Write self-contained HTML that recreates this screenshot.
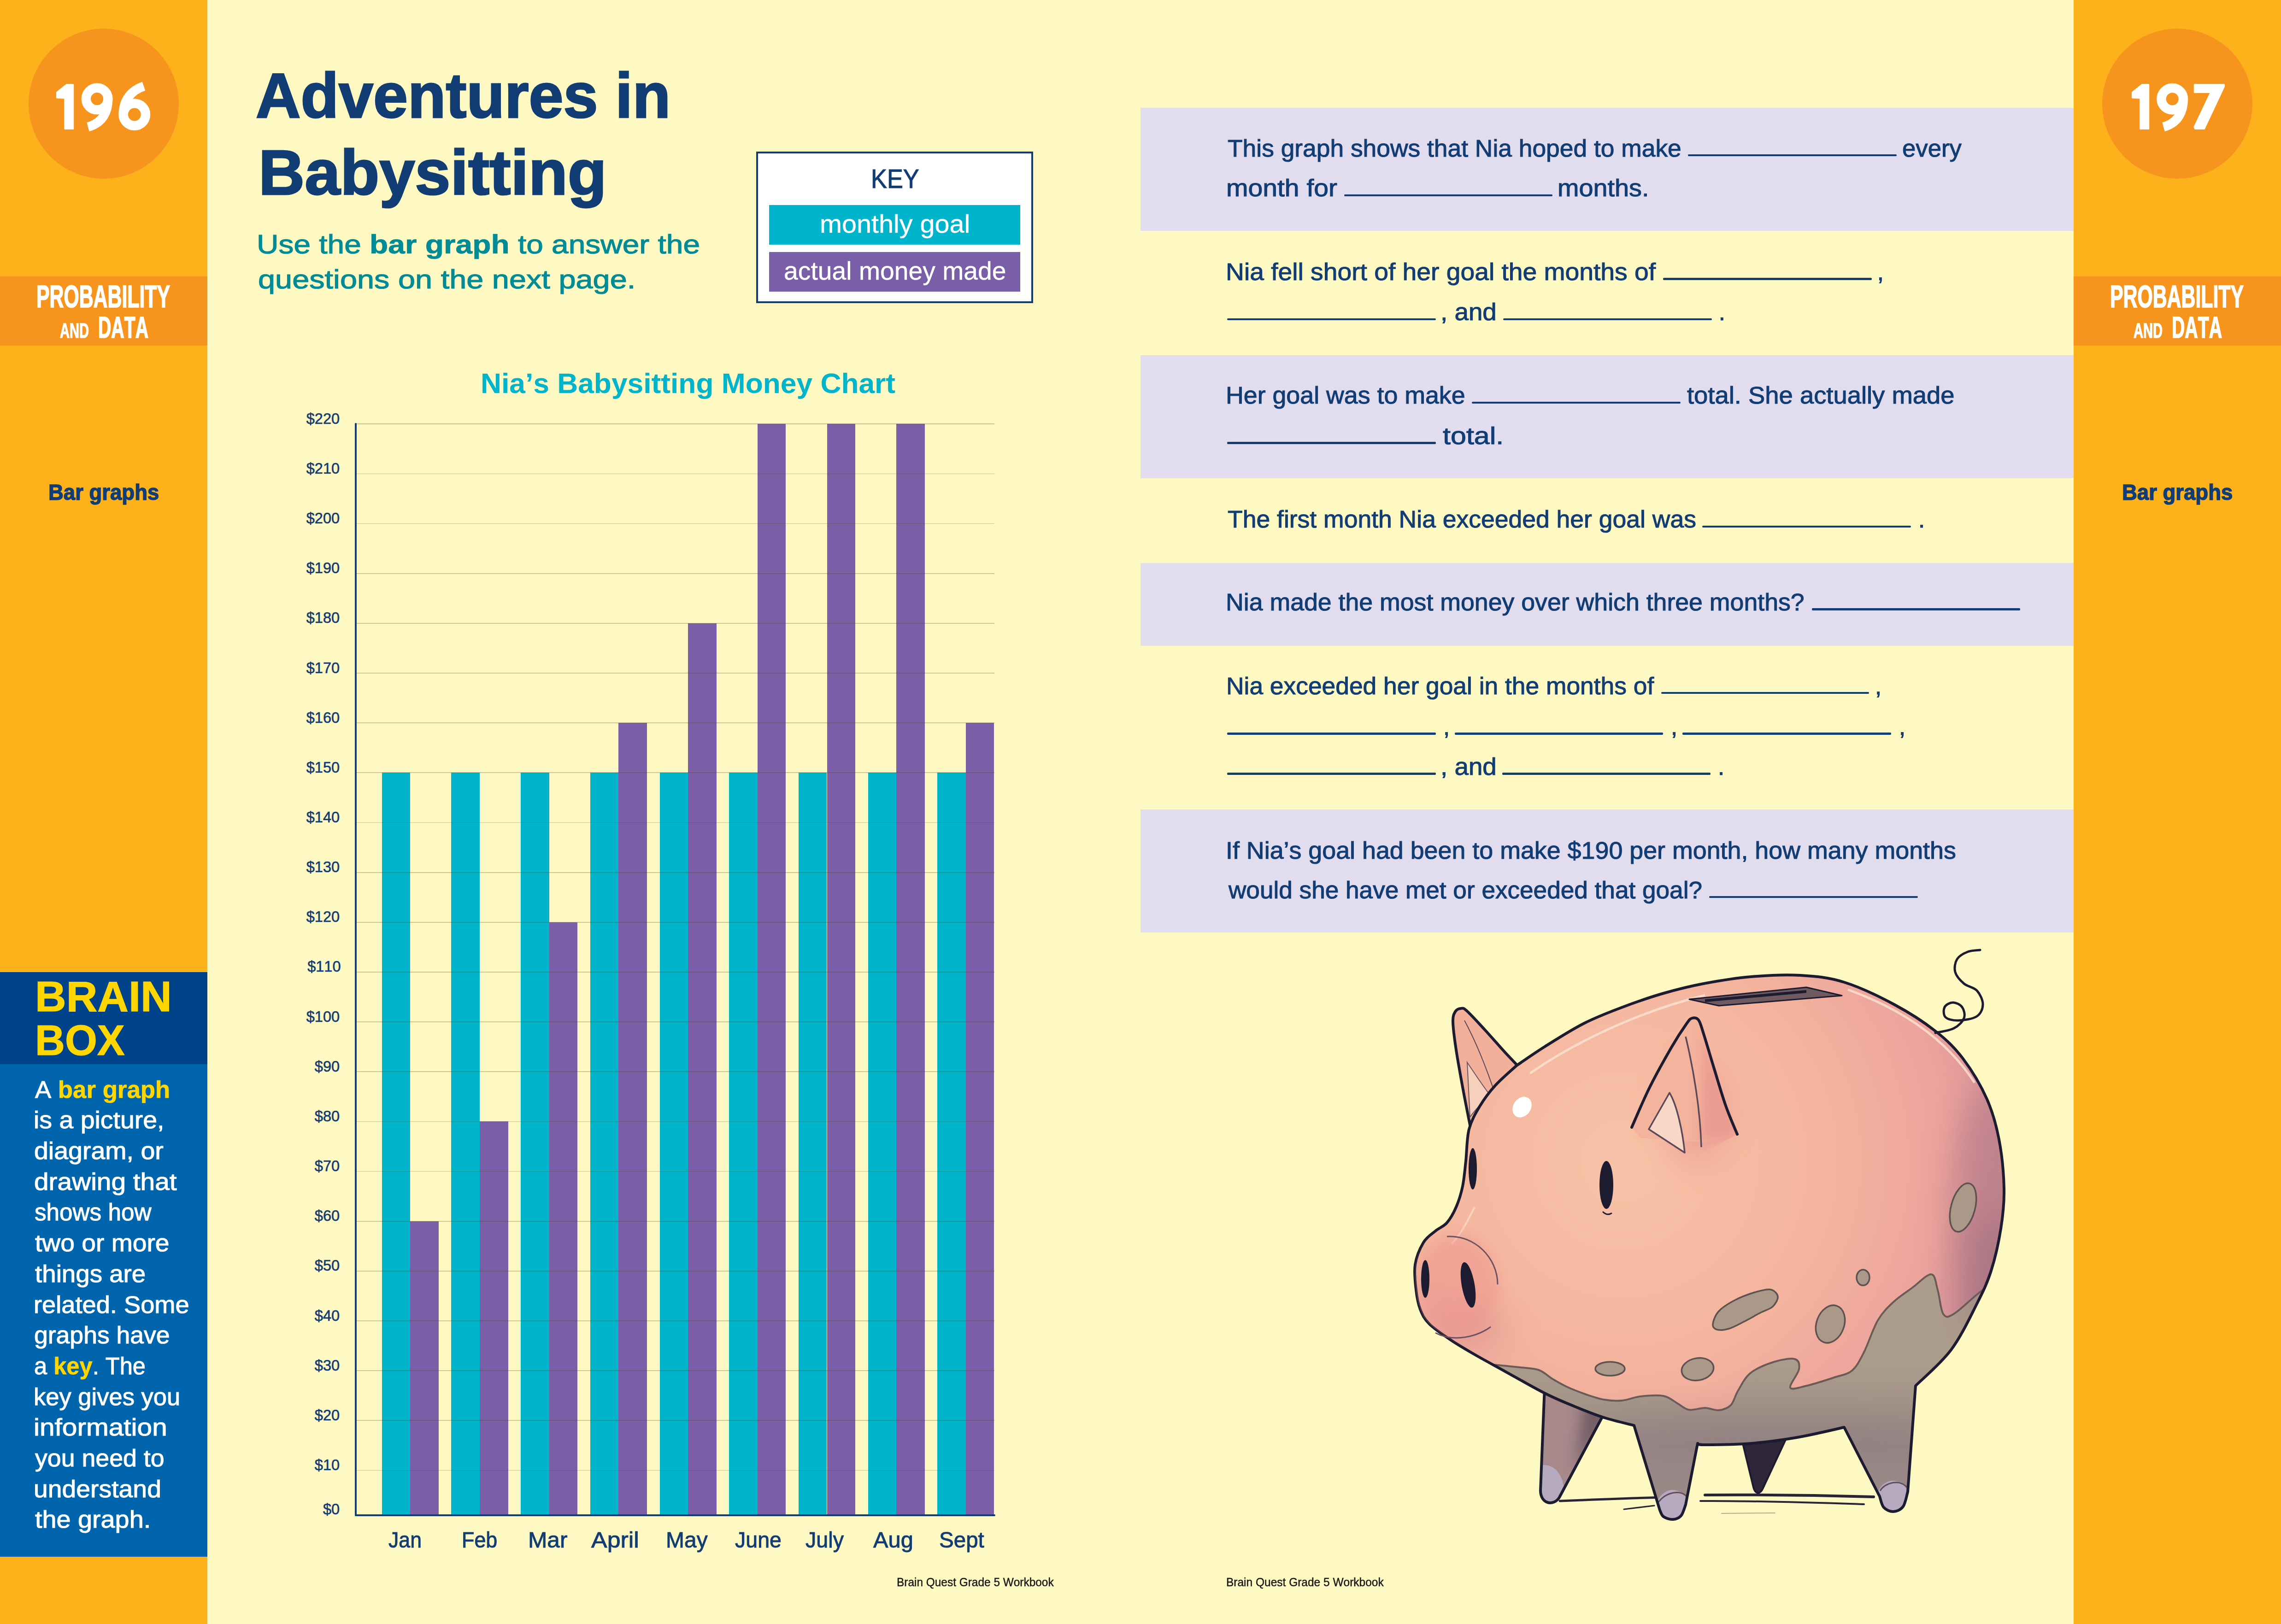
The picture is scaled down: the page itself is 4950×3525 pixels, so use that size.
<!DOCTYPE html>
<html><head><meta charset="utf-8"><title>Adventures in Babysitting</title>
<style>
html,body{margin:0;padding:0;}
body{width:4950px;height:3525px;position:relative;overflow:hidden;background:#FEF9C3;font-family:"Liberation Sans",sans-serif;}
.r{position:absolute;box-sizing:border-box;}
.t{position:absolute;white-space:pre;line-height:1;transform-origin:0 0;font-kerning:none;}
</style></head><body>
<div class="r" style="left:0.00px;top:0.00px;width:450.00px;height:3525.00px;background:#FDB11B;"></div>
<div class="r" style="left:62.0px;top:62.0px;width:326px;height:326px;border-radius:50%;background:#F7941E"></div>
<div class="r" style="left:0.00px;top:600.00px;width:450.00px;height:150.00px;background:#F7941E;"></div>
<div class="r" style="left:4500.00px;top:0.00px;width:450.00px;height:3525.00px;background:#FDB11B;"></div>
<div class="r" style="left:4562.0px;top:62.0px;width:326px;height:326px;border-radius:50%;background:#F7941E"></div>
<div class="r" style="left:4500.00px;top:600.00px;width:450.00px;height:150.00px;background:#F7941E;"></div>
<div class="r" style="left:0.00px;top:2110.00px;width:450.00px;height:200.00px;background:#00438B;"></div>
<div class="r" style="left:0.00px;top:2310.00px;width:450.00px;height:1068.50px;background:#0065AD;"></div>
<div class="r" style="left:2475.30px;top:233.70px;width:2024.70px;height:267.00px;background:#E1DCEE;"></div>
<div class="r" style="left:2475.30px;top:770.90px;width:2024.70px;height:266.90px;background:#E1DCEE;"></div>
<div class="r" style="left:2475.30px;top:1222.00px;width:2024.70px;height:180.00px;background:#E1DCEE;"></div>
<div class="r" style="left:2475.30px;top:1757.00px;width:2024.70px;height:266.70px;background:#E1DCEE;"></div>
<div class="r" style="left:1640.8px;top:328.5px;width:601px;height:329.4px;border:4.2px solid #123D74;background:#fff"></div>
<div class="r" style="left:1668.80px;top:445.20px;width:545.50px;height:85.60px;background:#00B4CC;"></div>
<div class="r" style="left:1668.80px;top:547.40px;width:545.50px;height:85.30px;background:#7A5FA8;"></div>
<div class="r" style="left:828.70px;top:1677.35px;width:61.60px;height:1610.65px;background:#00B4CC;"></div>
<div class="r" style="left:890.30px;top:2650.70px;width:61.60px;height:637.30px;background:#7A5FA8;"></div>
<div class="r" style="left:979.40px;top:1677.35px;width:61.60px;height:1610.65px;background:#00B4CC;"></div>
<div class="r" style="left:1041.00px;top:2434.40px;width:61.60px;height:853.60px;background:#7A5FA8;"></div>
<div class="r" style="left:1130.10px;top:1677.35px;width:61.60px;height:1610.65px;background:#00B4CC;"></div>
<div class="r" style="left:1191.70px;top:2001.80px;width:61.60px;height:1286.20px;background:#7A5FA8;"></div>
<div class="r" style="left:1280.80px;top:1677.35px;width:61.60px;height:1610.65px;background:#00B4CC;"></div>
<div class="r" style="left:1342.40px;top:1569.20px;width:61.60px;height:1718.80px;background:#7A5FA8;"></div>
<div class="r" style="left:1431.50px;top:1677.35px;width:61.60px;height:1610.65px;background:#00B4CC;"></div>
<div class="r" style="left:1493.10px;top:1352.90px;width:61.60px;height:1935.10px;background:#7A5FA8;"></div>
<div class="r" style="left:1582.20px;top:1677.35px;width:61.60px;height:1610.65px;background:#00B4CC;"></div>
<div class="r" style="left:1643.80px;top:920.30px;width:61.60px;height:2367.70px;background:#7A5FA8;"></div>
<div class="r" style="left:1732.90px;top:1677.35px;width:61.60px;height:1610.65px;background:#00B4CC;"></div>
<div class="r" style="left:1794.50px;top:920.30px;width:61.60px;height:2367.70px;background:#7A5FA8;"></div>
<div class="r" style="left:1883.60px;top:1677.35px;width:61.60px;height:1610.65px;background:#00B4CC;"></div>
<div class="r" style="left:1945.20px;top:920.30px;width:61.60px;height:2367.70px;background:#7A5FA8;"></div>
<div class="r" style="left:2034.30px;top:1677.35px;width:61.60px;height:1610.65px;background:#00B4CC;"></div>
<div class="r" style="left:2095.90px;top:1569.20px;width:61.60px;height:1718.80px;background:#7A5FA8;"></div>
<div class="r" style="left:773.00px;top:3190.55px;width:1385.00px;height:1.80px;background:rgba(90,70,20,0.28);"></div>
<div class="r" style="left:773.00px;top:3082.40px;width:1385.00px;height:1.80px;background:rgba(90,70,20,0.28);"></div>
<div class="r" style="left:773.00px;top:2974.25px;width:1385.00px;height:1.80px;background:rgba(90,70,20,0.28);"></div>
<div class="r" style="left:773.00px;top:2866.10px;width:1385.00px;height:1.80px;background:rgba(90,70,20,0.28);"></div>
<div class="r" style="left:773.00px;top:2757.95px;width:1385.00px;height:1.80px;background:rgba(90,70,20,0.28);"></div>
<div class="r" style="left:773.00px;top:2649.80px;width:1385.00px;height:1.80px;background:rgba(90,70,20,0.28);"></div>
<div class="r" style="left:773.00px;top:2541.65px;width:1385.00px;height:1.80px;background:rgba(90,70,20,0.28);"></div>
<div class="r" style="left:773.00px;top:2433.50px;width:1385.00px;height:1.80px;background:rgba(90,70,20,0.28);"></div>
<div class="r" style="left:773.00px;top:2325.35px;width:1385.00px;height:1.80px;background:rgba(90,70,20,0.28);"></div>
<div class="r" style="left:773.00px;top:2217.20px;width:1385.00px;height:1.80px;background:rgba(90,70,20,0.28);"></div>
<div class="r" style="left:773.00px;top:2109.05px;width:1385.00px;height:1.80px;background:rgba(90,70,20,0.28);"></div>
<div class="r" style="left:773.00px;top:2000.90px;width:1385.00px;height:1.80px;background:rgba(90,70,20,0.28);"></div>
<div class="r" style="left:773.00px;top:1892.75px;width:1385.00px;height:1.80px;background:rgba(90,70,20,0.28);"></div>
<div class="r" style="left:773.00px;top:1784.60px;width:1385.00px;height:1.80px;background:rgba(90,70,20,0.28);"></div>
<div class="r" style="left:773.00px;top:1676.45px;width:1385.00px;height:1.80px;background:rgba(90,70,20,0.28);"></div>
<div class="r" style="left:773.00px;top:1568.30px;width:1385.00px;height:1.80px;background:rgba(90,70,20,0.28);"></div>
<div class="r" style="left:773.00px;top:1460.15px;width:1385.00px;height:1.80px;background:rgba(90,70,20,0.28);"></div>
<div class="r" style="left:773.00px;top:1352.00px;width:1385.00px;height:1.80px;background:rgba(90,70,20,0.28);"></div>
<div class="r" style="left:773.00px;top:1243.85px;width:1385.00px;height:1.80px;background:rgba(90,70,20,0.28);"></div>
<div class="r" style="left:773.00px;top:1135.70px;width:1385.00px;height:1.80px;background:rgba(90,70,20,0.28);"></div>
<div class="r" style="left:773.00px;top:1027.55px;width:1385.00px;height:1.80px;background:rgba(90,70,20,0.28);"></div>
<div class="r" style="left:773.00px;top:919.40px;width:1385.00px;height:1.80px;background:rgba(90,70,20,0.28);"></div>
<div class="r" style="left:770.20px;top:918.00px;width:3.60px;height:2372.80px;background:#123D74;border-radius:2px"></div>
<div class="r" style="left:770.20px;top:3286.60px;width:1389.80px;height:4.20px;background:#123D74;border-radius:2px"></div>
<div class="r" style="left:3663.00px;top:335.10px;width:452.50px;height:4.40px;background:#123D74;border-radius:2px"></div>
<div class="r" style="left:2916.50px;top:421.50px;width:452.50px;height:4.40px;background:#123D74;border-radius:2px"></div>
<div class="r" style="left:3609.40px;top:603.40px;width:452.40px;height:4.40px;background:#123D74;border-radius:2px"></div>
<div class="r" style="left:2663.00px;top:690.60px;width:453.40px;height:4.40px;background:#123D74;border-radius:2px"></div>
<div class="r" style="left:3261.50px;top:690.60px;width:453.50px;height:4.40px;background:#123D74;border-radius:2px"></div>
<div class="r" style="left:3193.70px;top:871.70px;width:453.30px;height:4.40px;background:#123D74;border-radius:2px"></div>
<div class="r" style="left:2663.00px;top:959.20px;width:453.00px;height:4.40px;background:#123D74;border-radius:2px"></div>
<div class="r" style="left:3694.00px;top:1140.60px;width:452.60px;height:4.40px;background:#123D74;border-radius:2px"></div>
<div class="r" style="left:3931.70px;top:1320.20px;width:452.30px;height:4.40px;background:#123D74;border-radius:2px"></div>
<div class="r" style="left:3604.60px;top:1501.80px;width:451.40px;height:4.40px;background:#123D74;border-radius:2px"></div>
<div class="r" style="left:2663.00px;top:1590.20px;width:453.00px;height:4.40px;background:#123D74;border-radius:2px"></div>
<div class="r" style="left:3157.00px;top:1590.20px;width:452.40px;height:4.40px;background:#123D74;border-radius:2px"></div>
<div class="r" style="left:3650.80px;top:1590.20px;width:453.40px;height:4.40px;background:#123D74;border-radius:2px"></div>
<div class="r" style="left:2663.00px;top:1677.20px;width:453.00px;height:4.40px;background:#123D74;border-radius:2px"></div>
<div class="r" style="left:3259.70px;top:1677.20px;width:452.30px;height:4.40px;background:#123D74;border-radius:2px"></div>
<div class="r" style="left:3709.00px;top:1945.00px;width:452.70px;height:4.40px;background:#123D74;border-radius:2px"></div>
<svg style="position:absolute;left:3000px;top:2000px" width="1450" height="1350" viewBox="3000 2000 1450 1350">
<defs>
  <radialGradient id="pgb" cx="3520" cy="2520" r="860" gradientUnits="userSpaceOnUse">
    <stop offset="0" stop-color="#F7C3A8"/>
    <stop offset="0.5" stop-color="#F4B59E"/>
    <stop offset="0.82" stop-color="#ECA39C"/>
    <stop offset="1" stop-color="#D6929A"/>
  </radialGradient>
  <linearGradient id="mudg" x1="0" y1="2950" x2="0" y2="3140" gradientUnits="userSpaceOnUse">
    <stop offset="0" stop-color="#AC9C8C"/>
    <stop offset="0.6" stop-color="#A39388"/>
    <stop offset="1" stop-color="#9A8887"/>
  </linearGradient>
  <linearGradient id="legg" x1="0" y1="3050" x2="0" y2="3300" gradientUnits="userSpaceOnUse">
    <stop offset="0" stop-color="#94807F"/>
    <stop offset="1" stop-color="#A98E90"/>
  </linearGradient>
  <filter id="bl40" x="-50%" y="-50%" width="200%" height="200%"><feGaussianBlur stdDeviation="35"/></filter>
  <filter id="bl15" x="-50%" y="-50%" width="200%" height="200%"><feGaussianBlur stdDeviation="14"/></filter>
  <clipPath id="bodyclip"><path d="M3291.0,2313.0 C3301.2,2306.2 3327.5,2287.3 3352.0,2272.0 C3376.5,2256.7 3409.3,2235.5 3438.0,2221.0 C3466.7,2206.5 3495.3,2195.8 3524.0,2185.0 C3552.7,2174.2 3581.2,2164.3 3610.0,2156.0 C3638.8,2147.7 3665.3,2141.0 3697.0,2135.0 C3728.7,2129.0 3765.0,2123.0 3800.0,2120.0 C3835.0,2117.0 3873.3,2115.0 3907.0,2117.0 C3940.7,2119.0 3968.2,2121.5 4002.0,2132.0 C4035.8,2142.5 4077.0,2162.3 4110.0,2180.0 C4143.0,2197.7 4175.0,2218.3 4200.0,2238.0 C4225.0,2257.7 4241.3,2273.3 4260.0,2298.0 C4278.7,2322.7 4299.0,2356.8 4312.0,2386.0 C4325.0,2415.2 4331.8,2440.7 4338.0,2473.0 C4344.2,2505.3 4348.3,2547.7 4349.0,2580.0 C4349.7,2612.3 4346.7,2637.3 4342.0,2667.0 C4337.3,2696.7 4329.7,2730.8 4321.0,2758.0 C4312.3,2785.2 4304.5,2801.3 4290.0,2830.0 C4275.5,2858.7 4256.2,2900.3 4234.0,2930.0 C4211.8,2959.7 4169.8,2995.0 4157.0,3008.0 L4140.0,3238.0 C4138.3,3243.3 4135.2,3262.8 4130.0,3270.0 C4124.8,3277.2 4116.0,3280.7 4109.0,3281.0 C4102.0,3281.3 4093.0,3277.5 4088.0,3272.0 C4083.0,3266.5 4080.5,3252.0 4079.0,3248.0 L4002.0,3098.0 C3985.0,3101.7 3933.7,3114.2 3900.0,3120.0 C3866.3,3125.8 3833.3,3130.3 3800.0,3133.0 C3766.7,3135.7 3719.3,3136.0 3700.0,3136.0 C3680.7,3136.0 3686.7,3133.5 3684.0,3133.0 L3658.0,3266.0 C3656.3,3270.0 3652.7,3284.7 3648.0,3290.0 C3643.3,3295.3 3636.3,3297.7 3630.0,3298.0 C3623.7,3298.3 3614.7,3295.3 3610.0,3292.0 C3605.3,3288.7 3603.3,3280.3 3602.0,3278.0 L3546.0,3094.0 C3535.2,3091.2 3502.0,3083.7 3481.0,3077.0 C3460.0,3070.3 3441.5,3062.8 3420.0,3054.0 C3398.5,3045.2 3377.8,3037.0 3352.0,3024.0 C3326.2,3011.0 3290.3,2990.0 3265.0,2976.0 C3239.7,2962.0 3219.3,2951.2 3200.0,2940.0 C3180.7,2928.8 3165.3,2920.0 3149.0,2909.0 C3132.7,2898.0 3113.2,2885.2 3102.0,2874.0 C3090.8,2862.8 3086.8,2854.3 3082.0,2842.0 C3077.2,2829.7 3074.8,2816.2 3073.0,2800.0 C3071.2,2783.8 3068.3,2762.2 3071.0,2745.0 C3073.7,2727.8 3081.7,2709.2 3089.0,2697.0 C3096.3,2684.8 3106.5,2679.2 3115.0,2672.0 C3123.5,2664.8 3132.5,2662.7 3140.0,2654.0 C3147.5,2645.3 3154.3,2633.2 3160.0,2620.0 C3165.7,2606.8 3170.5,2591.7 3174.0,2575.0 C3177.5,2558.3 3178.7,2540.7 3181.0,2520.0 C3183.3,2499.3 3182.8,2471.0 3188.0,2451.0 C3193.2,2431.0 3202.5,2415.8 3212.0,2400.0 C3221.5,2384.2 3231.8,2370.5 3245.0,2356.0 C3258.2,2341.5 3283.3,2320.2 3291.0,2313.0 Z"/></clipPath>
  <clipPath id="legclip"><path d="M3352,3010 L3343,3235 C3343,3265 3372,3270 3384,3250 L3480,3070 Z"/></clipPath>
  <clipPath id="earclip"><path d="M3541.0,2447.0 C3547.5,2432.5 3565.5,2389.2 3580.0,2360.0 C3594.5,2330.8 3614.7,2295.0 3628.0,2272.0 C3641.3,2249.0 3652.7,2232.3 3660.0,2222.0 C3667.3,2211.7 3667.7,2211.3 3672.0,2210.0 C3676.3,2208.7 3681.8,2208.3 3686.0,2214.0 C3690.2,2219.7 3691.3,2226.3 3697.0,2244.0 C3702.7,2261.7 3712.0,2294.0 3720.0,2320.0 C3728.0,2346.0 3736.7,2376.3 3745.0,2400.0 C3753.3,2423.7 3765.8,2451.7 3770.0,2462.0 L3700,2500 Z"/></clipPath>
</defs>
<g stroke="#2A2436" stroke-linecap="round" fill="none">
  <path d="M3385,3258 C3480,3254 3560,3251 3620,3250" stroke-width="5"/>
  <path d="M3524,3276 L3590,3268" stroke-width="3"/>
  <path d="M3700,3245 C3850,3244 3960,3246 4066,3249" stroke-width="6"/>
  <path d="M3690,3258 C3800,3257 3950,3262 4045,3265" stroke-width="4"/>
  <path d="M3736,3285 L3852,3284" stroke-width="2" stroke-opacity="0.35"/>
</g>
<path d="M3780,3125 L3805,3228 C3809,3244 3820,3244 3826,3230 L3875,3125 Z" fill="#2E2639" stroke="#1D1B30" stroke-width="4"/>
<path d="M3192.0,2452.0 C3189.2,2437.5 3180.3,2393.8 3175.0,2365.0 C3169.7,2336.2 3163.7,2303.5 3160.0,2279.0 C3156.3,2254.5 3153.3,2231.8 3153.0,2218.0 C3152.7,2204.2 3155.2,2200.8 3158.0,2196.0 C3160.8,2191.2 3165.8,2189.3 3170.0,2189.0 C3174.2,2188.7 3174.3,2186.3 3183.0,2194.0 C3191.7,2201.7 3208.3,2220.2 3222.0,2235.0 C3235.7,2249.8 3252.0,2268.8 3265.0,2283.0 C3278.0,2297.2 3294.2,2313.8 3300.0,2320.0 Z" fill="#F2B09A" stroke="#1D1B30" stroke-width="6" stroke-linejoin="round"/>
<path d="M3184,2306 C3200,2330 3220,2360 3233,2376 C3215,2395 3200,2410 3190,2425 Z" fill="#F6D0BC" stroke="#6B5560" stroke-width="2"/>
<path d="M3178,2215 C3205,2265 3230,2330 3248,2385" stroke="#5B4858" stroke-width="2" fill="none"/>
<path d="M3352,3010 L3343,3235 C3343,3265 3372,3270 3384,3250 L3480,3070 Z" fill="#A7888B"/>
<g clip-path="url(#legclip)">
  <path d="M3440,3020 L3500,3060 L3420,3190 Z" fill="#3A3040" opacity="0.5" filter="url(#bl15)"/>
  <ellipse cx="3352" cy="3236" rx="42" ry="56" fill="#B7AABF"/>
</g>
<path d="M3352,3010 L3343,3235 C3343,3265 3372,3270 3384,3250 L3480,3070" fill="none" stroke="#1D1B30" stroke-width="6" stroke-linejoin="round"/>
<path d="M3291.0,2313.0 C3301.2,2306.2 3327.5,2287.3 3352.0,2272.0 C3376.5,2256.7 3409.3,2235.5 3438.0,2221.0 C3466.7,2206.5 3495.3,2195.8 3524.0,2185.0 C3552.7,2174.2 3581.2,2164.3 3610.0,2156.0 C3638.8,2147.7 3665.3,2141.0 3697.0,2135.0 C3728.7,2129.0 3765.0,2123.0 3800.0,2120.0 C3835.0,2117.0 3873.3,2115.0 3907.0,2117.0 C3940.7,2119.0 3968.2,2121.5 4002.0,2132.0 C4035.8,2142.5 4077.0,2162.3 4110.0,2180.0 C4143.0,2197.7 4175.0,2218.3 4200.0,2238.0 C4225.0,2257.7 4241.3,2273.3 4260.0,2298.0 C4278.7,2322.7 4299.0,2356.8 4312.0,2386.0 C4325.0,2415.2 4331.8,2440.7 4338.0,2473.0 C4344.2,2505.3 4348.3,2547.7 4349.0,2580.0 C4349.7,2612.3 4346.7,2637.3 4342.0,2667.0 C4337.3,2696.7 4329.7,2730.8 4321.0,2758.0 C4312.3,2785.2 4304.5,2801.3 4290.0,2830.0 C4275.5,2858.7 4256.2,2900.3 4234.0,2930.0 C4211.8,2959.7 4169.8,2995.0 4157.0,3008.0 L4140.0,3238.0 C4138.3,3243.3 4135.2,3262.8 4130.0,3270.0 C4124.8,3277.2 4116.0,3280.7 4109.0,3281.0 C4102.0,3281.3 4093.0,3277.5 4088.0,3272.0 C4083.0,3266.5 4080.5,3252.0 4079.0,3248.0 L4002.0,3098.0 C3985.0,3101.7 3933.7,3114.2 3900.0,3120.0 C3866.3,3125.8 3833.3,3130.3 3800.0,3133.0 C3766.7,3135.7 3719.3,3136.0 3700.0,3136.0 C3680.7,3136.0 3686.7,3133.5 3684.0,3133.0 L3658.0,3266.0 C3656.3,3270.0 3652.7,3284.7 3648.0,3290.0 C3643.3,3295.3 3636.3,3297.7 3630.0,3298.0 C3623.7,3298.3 3614.7,3295.3 3610.0,3292.0 C3605.3,3288.7 3603.3,3280.3 3602.0,3278.0 L3546.0,3094.0 C3535.2,3091.2 3502.0,3083.7 3481.0,3077.0 C3460.0,3070.3 3441.5,3062.8 3420.0,3054.0 C3398.5,3045.2 3377.8,3037.0 3352.0,3024.0 C3326.2,3011.0 3290.3,2990.0 3265.0,2976.0 C3239.7,2962.0 3219.3,2951.2 3200.0,2940.0 C3180.7,2928.8 3165.3,2920.0 3149.0,2909.0 C3132.7,2898.0 3113.2,2885.2 3102.0,2874.0 C3090.8,2862.8 3086.8,2854.3 3082.0,2842.0 C3077.2,2829.7 3074.8,2816.2 3073.0,2800.0 C3071.2,2783.8 3068.3,2762.2 3071.0,2745.0 C3073.7,2727.8 3081.7,2709.2 3089.0,2697.0 C3096.3,2684.8 3106.5,2679.2 3115.0,2672.0 C3123.5,2664.8 3132.5,2662.7 3140.0,2654.0 C3147.5,2645.3 3154.3,2633.2 3160.0,2620.0 C3165.7,2606.8 3170.5,2591.7 3174.0,2575.0 C3177.5,2558.3 3178.7,2540.7 3181.0,2520.0 C3183.3,2499.3 3182.8,2471.0 3188.0,2451.0 C3193.2,2431.0 3202.5,2415.8 3212.0,2400.0 C3221.5,2384.2 3231.8,2370.5 3245.0,2356.0 C3258.2,2341.5 3283.3,2320.2 3291.0,2313.0 Z" fill="url(#pgb)"/>
<g clip-path="url(#bodyclip)">
  <ellipse cx="3680" cy="2420" rx="70" ry="110" fill="#E58888" opacity="0.45" filter="url(#bl40)"/>
  <ellipse cx="3180" cy="2880" rx="90" ry="50" fill="#D88A8C" opacity="0.5" filter="url(#bl40)"/>
  <ellipse cx="4320" cy="2680" rx="90" ry="330" fill="#A87283" opacity="0.55" filter="url(#bl40)"/>
  <path d="M3240.0,2962.0 C3250.0,2963.0 3283.3,2966.0 3300.0,2968.0 C3316.7,2970.0 3328.5,2969.8 3340.0,2974.0 C3351.5,2978.2 3359.0,2987.0 3369.0,2993.0 C3379.0,2999.0 3388.2,3004.5 3400.0,3010.0 C3411.8,3015.5 3426.5,3021.3 3440.0,3026.0 C3453.5,3030.7 3467.7,3035.7 3481.0,3038.0 C3494.3,3040.3 3506.8,3041.2 3520.0,3040.0 C3533.2,3038.8 3545.0,3032.7 3560.0,3031.0 C3575.0,3029.3 3596.7,3027.5 3610.0,3030.0 C3623.3,3032.5 3630.8,3041.0 3640.0,3046.0 C3649.2,3051.0 3655.0,3058.3 3665.0,3060.0 C3675.0,3061.7 3689.2,3055.8 3700.0,3056.0 C3710.8,3056.2 3720.7,3062.0 3730.0,3061.0 C3739.3,3060.0 3749.0,3057.2 3756.0,3050.0 C3763.0,3042.8 3764.8,3029.7 3772.0,3018.0 C3779.2,3006.3 3786.0,2990.3 3799.0,2980.0 C3812.0,2969.7 3834.0,2961.0 3850.0,2956.0 C3866.0,2951.0 3886.0,2947.3 3895.0,2950.0 C3904.0,2952.7 3905.7,2961.7 3904.0,2972.0 C3902.3,2982.3 3882.3,3006.0 3885.0,3012.0 C3887.7,3018.0 3904.2,3011.7 3920.0,3008.0 C3935.8,3004.3 3963.5,2995.5 3980.0,2990.0 C3996.5,2984.5 4008.2,2984.2 4019.0,2975.0 C4029.8,2965.8 4035.7,2953.2 4045.0,2935.0 C4054.3,2916.8 4064.3,2884.2 4075.0,2866.0 C4085.7,2847.8 4096.5,2837.8 4109.0,2826.0 C4121.5,2814.2 4136.3,2805.0 4150.0,2795.0 C4163.7,2785.0 4181.8,2765.2 4191.0,2766.0 C4200.2,2766.8 4200.7,2785.7 4205.0,2800.0 C4209.3,2814.3 4211.2,2843.3 4217.0,2852.0 C4222.8,2860.7 4227.0,2859.7 4240.0,2852.0 C4253.0,2844.3 4278.3,2818.8 4295.0,2806.0 C4311.7,2793.2 4332.5,2780.2 4340.0,2775.0 L4450,2760 L4450,3400 L3150,3400 L3150,2950 Z" fill="url(#mudg)"/>
  <path d="M3240.0,2962.0 C3250.0,2963.0 3283.3,2966.0 3300.0,2968.0 C3316.7,2970.0 3328.5,2969.8 3340.0,2974.0 C3351.5,2978.2 3359.0,2987.0 3369.0,2993.0 C3379.0,2999.0 3388.2,3004.5 3400.0,3010.0 C3411.8,3015.5 3426.5,3021.3 3440.0,3026.0 C3453.5,3030.7 3467.7,3035.7 3481.0,3038.0 C3494.3,3040.3 3506.8,3041.2 3520.0,3040.0 C3533.2,3038.8 3545.0,3032.7 3560.0,3031.0 C3575.0,3029.3 3596.7,3027.5 3610.0,3030.0 C3623.3,3032.5 3630.8,3041.0 3640.0,3046.0 C3649.2,3051.0 3655.0,3058.3 3665.0,3060.0 C3675.0,3061.7 3689.2,3055.8 3700.0,3056.0 C3710.8,3056.2 3720.7,3062.0 3730.0,3061.0 C3739.3,3060.0 3749.0,3057.2 3756.0,3050.0 C3763.0,3042.8 3764.8,3029.7 3772.0,3018.0 C3779.2,3006.3 3786.0,2990.3 3799.0,2980.0 C3812.0,2969.7 3834.0,2961.0 3850.0,2956.0 C3866.0,2951.0 3886.0,2947.3 3895.0,2950.0 C3904.0,2952.7 3905.7,2961.7 3904.0,2972.0 C3902.3,2982.3 3882.3,3006.0 3885.0,3012.0 C3887.7,3018.0 3904.2,3011.7 3920.0,3008.0 C3935.8,3004.3 3963.5,2995.5 3980.0,2990.0 C3996.5,2984.5 4008.2,2984.2 4019.0,2975.0 C4029.8,2965.8 4035.7,2953.2 4045.0,2935.0 C4054.3,2916.8 4064.3,2884.2 4075.0,2866.0 C4085.7,2847.8 4096.5,2837.8 4109.0,2826.0 C4121.5,2814.2 4136.3,2805.0 4150.0,2795.0 C4163.7,2785.0 4181.8,2765.2 4191.0,2766.0 C4200.2,2766.8 4200.7,2785.7 4205.0,2800.0 C4209.3,2814.3 4211.2,2843.3 4217.0,2852.0 C4222.8,2860.7 4227.0,2859.7 4240.0,2852.0 C4253.0,2844.3 4278.3,2818.8 4295.0,2806.0 C4311.7,2793.2 4332.5,2780.2 4340.0,2775.0" fill="none" stroke="#6A5A58" stroke-width="4" stroke-linejoin="round"/>
  <ellipse cx="3880" cy="3110" rx="420" ry="50" fill="#6F6470" opacity="0.2" filter="url(#bl40)"/>
  <ellipse cx="4330" cy="2780" rx="60" ry="150" fill="#806070" opacity="0.3" filter="url(#bl40)"/>
  <ellipse cx="4108" cy="3262" rx="38" ry="48" fill="#B6A9C0"/>
  <ellipse cx="3630" cy="3288" rx="40" ry="54" fill="#B6A9C0"/>
</g>
<path d="M4080,3236 C4090,3218 4122,3210 4138,3228" fill="none" stroke="#5E4E58" stroke-width="3"/>
<path d="M3598,3262 C3615,3238 3648,3232 3662,3250" fill="none" stroke="#5E4E58" stroke-width="3"/>
<path d="M3291.0,2313.0 C3301.2,2306.2 3327.5,2287.3 3352.0,2272.0 C3376.5,2256.7 3409.3,2235.5 3438.0,2221.0 C3466.7,2206.5 3495.3,2195.8 3524.0,2185.0 C3552.7,2174.2 3581.2,2164.3 3610.0,2156.0 C3638.8,2147.7 3665.3,2141.0 3697.0,2135.0 C3728.7,2129.0 3765.0,2123.0 3800.0,2120.0 C3835.0,2117.0 3873.3,2115.0 3907.0,2117.0 C3940.7,2119.0 3968.2,2121.5 4002.0,2132.0 C4035.8,2142.5 4077.0,2162.3 4110.0,2180.0 C4143.0,2197.7 4175.0,2218.3 4200.0,2238.0 C4225.0,2257.7 4241.3,2273.3 4260.0,2298.0 C4278.7,2322.7 4299.0,2356.8 4312.0,2386.0 C4325.0,2415.2 4331.8,2440.7 4338.0,2473.0 C4344.2,2505.3 4348.3,2547.7 4349.0,2580.0 C4349.7,2612.3 4346.7,2637.3 4342.0,2667.0 C4337.3,2696.7 4329.7,2730.8 4321.0,2758.0 C4312.3,2785.2 4304.5,2801.3 4290.0,2830.0 C4275.5,2858.7 4256.2,2900.3 4234.0,2930.0 C4211.8,2959.7 4169.8,2995.0 4157.0,3008.0 L4140.0,3238.0 C4138.3,3243.3 4135.2,3262.8 4130.0,3270.0 C4124.8,3277.2 4116.0,3280.7 4109.0,3281.0 C4102.0,3281.3 4093.0,3277.5 4088.0,3272.0 C4083.0,3266.5 4080.5,3252.0 4079.0,3248.0 L4002.0,3098.0 C3985.0,3101.7 3933.7,3114.2 3900.0,3120.0 C3866.3,3125.8 3833.3,3130.3 3800.0,3133.0 C3766.7,3135.7 3719.3,3136.0 3700.0,3136.0 C3680.7,3136.0 3686.7,3133.5 3684.0,3133.0 L3658.0,3266.0 C3656.3,3270.0 3652.7,3284.7 3648.0,3290.0 C3643.3,3295.3 3636.3,3297.7 3630.0,3298.0 C3623.7,3298.3 3614.7,3295.3 3610.0,3292.0 C3605.3,3288.7 3603.3,3280.3 3602.0,3278.0 L3546.0,3094.0 C3535.2,3091.2 3502.0,3083.7 3481.0,3077.0 C3460.0,3070.3 3441.5,3062.8 3420.0,3054.0 C3398.5,3045.2 3377.8,3037.0 3352.0,3024.0 C3326.2,3011.0 3290.3,2990.0 3265.0,2976.0 C3239.7,2962.0 3219.3,2951.2 3200.0,2940.0 C3180.7,2928.8 3165.3,2920.0 3149.0,2909.0 C3132.7,2898.0 3113.2,2885.2 3102.0,2874.0 C3090.8,2862.8 3086.8,2854.3 3082.0,2842.0 C3077.2,2829.7 3074.8,2816.2 3073.0,2800.0 C3071.2,2783.8 3068.3,2762.2 3071.0,2745.0 C3073.7,2727.8 3081.7,2709.2 3089.0,2697.0 C3096.3,2684.8 3106.5,2679.2 3115.0,2672.0 C3123.5,2664.8 3132.5,2662.7 3140.0,2654.0 C3147.5,2645.3 3154.3,2633.2 3160.0,2620.0 C3165.7,2606.8 3170.5,2591.7 3174.0,2575.0 C3177.5,2558.3 3178.7,2540.7 3181.0,2520.0 C3183.3,2499.3 3182.8,2471.0 3188.0,2451.0 C3193.2,2431.0 3202.5,2415.8 3212.0,2400.0 C3221.5,2384.2 3231.8,2370.5 3245.0,2356.0 C3258.2,2341.5 3283.3,2320.2 3291.0,2313.0 Z" fill="none" stroke="#1D1B30" stroke-width="6" stroke-linejoin="round"/>
<path d="M3320,2330 C3420,2260 3560,2195 3700,2160" stroke="#FBE3D3" stroke-width="5" fill="none" opacity="0.8"/>
<path d="M4010,2148 C4140,2195 4230,2265 4285,2350" stroke="#FBE3D3" stroke-width="5" fill="none" opacity="0.8"/>
<path d="M3200,2620 C3185,2650 3170,2680 3150,2700" stroke="#FBE3D3" stroke-width="4" fill="none" opacity="0.6"/>
<g clip-path="url(#bodyclip)"><ellipse cx="3165" cy="2790" rx="88" ry="108" fill="#EE968E" opacity="0.55" filter="url(#bl15)"/></g>
<path d="M3140,2684 C3200,2680 3250,2730 3250,2788" stroke="#6E5060" stroke-width="3" fill="none"/>
<path d="M3115,2893 C3150,2912 3200,2905 3235,2880" stroke="#6E5060" stroke-width="3" fill="none"/>
<ellipse cx="3093" cy="2776" rx="9" ry="41" fill="#1D1B30"/>
<ellipse cx="3186" cy="2789" rx="14" ry="50" fill="#1D1B30" transform="rotate(-10 3186 2789)"/>
<ellipse cx="3196" cy="2537" rx="9" ry="45" fill="#1D1B30"/>
<ellipse cx="3486" cy="2572" rx="15" ry="52" fill="#1D1B30"/>
<path d="M3478,2630 C3485,2637 3492,2637 3498,2633" stroke="#1D1B30" stroke-width="3" fill="none"/>
<ellipse cx="3303" cy="2403" rx="19" ry="24" fill="#FFFFFF" transform="rotate(35 3303 2403)"/>
<path d="M3541.0,2447.0 C3547.5,2432.5 3565.5,2389.2 3580.0,2360.0 C3594.5,2330.8 3614.7,2295.0 3628.0,2272.0 C3641.3,2249.0 3652.7,2232.3 3660.0,2222.0 C3667.3,2211.7 3667.7,2211.3 3672.0,2210.0 C3676.3,2208.7 3681.8,2208.3 3686.0,2214.0 C3690.2,2219.7 3691.3,2226.3 3697.0,2244.0 C3702.7,2261.7 3712.0,2294.0 3720.0,2320.0 C3728.0,2346.0 3736.7,2376.3 3745.0,2400.0 C3753.3,2423.7 3765.8,2451.7 3770.0,2462.0 L3700,2480 L3560,2470 Z" fill="#F3B39C"/>
<g clip-path="url(#earclip)">
  <path d="M3700,2230 L3780,2470 L3690,2480 Z" fill="#E48A88" opacity="0.6" filter="url(#bl15)"/>
</g>
<path d="M3541.0,2447.0 C3547.5,2432.5 3565.5,2389.2 3580.0,2360.0 C3594.5,2330.8 3614.7,2295.0 3628.0,2272.0 C3641.3,2249.0 3652.7,2232.3 3660.0,2222.0 C3667.3,2211.7 3667.7,2211.3 3672.0,2210.0 C3676.3,2208.7 3681.8,2208.3 3686.0,2214.0 C3690.2,2219.7 3691.3,2226.3 3697.0,2244.0 C3702.7,2261.7 3712.0,2294.0 3720.0,2320.0 C3728.0,2346.0 3736.7,2376.3 3745.0,2400.0 C3753.3,2423.7 3765.8,2451.7 3770.0,2462.0" fill="none" stroke="#1D1B30" stroke-width="6" stroke-linecap="round"/>
<path d="M3578,2451 L3623,2372 C3640,2400 3652,2460 3656,2502 Z" fill="#F8D6C8" stroke="#5B4858" stroke-width="3.5" stroke-linejoin="round"/>
<path d="M3658,2250 C3675,2320 3690,2410 3692,2490" stroke="#5B4858" stroke-width="3.5" fill="none"/>
<path d="M3666,2169 L3920,2143 L3997,2161 L3730,2183 Z" fill="#6E5A60" stroke="#1D1B30" stroke-width="3" stroke-linejoin="round"/>
<path d="M3700,2172 L3920,2152" stroke="#1D1B30" stroke-width="6"/>
<path d="M4200.0,2242.0 C4206.7,2240.3 4229.7,2237.3 4240.0,2232.0 C4250.3,2226.7 4259.0,2217.7 4262.0,2210.0 C4265.0,2202.3 4262.0,2191.7 4258.0,2186.0 C4254.0,2180.3 4244.3,2176.0 4238.0,2176.0 C4231.7,2176.0 4222.7,2180.7 4220.0,2186.0 C4217.3,2191.3 4217.0,2203.2 4222.0,2208.0 C4227.0,2212.8 4238.7,2215.3 4250.0,2215.0 C4261.3,2214.7 4281.2,2211.8 4290.0,2206.0 C4298.8,2200.2 4303.0,2189.3 4303.0,2180.0 C4303.0,2170.7 4296.8,2157.5 4290.0,2150.0 C4283.2,2142.5 4269.8,2141.7 4262.0,2135.0 C4254.2,2128.3 4245.5,2118.8 4243.0,2110.0 C4240.5,2101.2 4242.5,2089.3 4247.0,2082.0 C4251.5,2074.7 4261.7,2069.3 4270.0,2066.0 C4278.3,2062.7 4292.5,2062.7 4297.0,2062.0" fill="none" stroke="#1D1B30" stroke-width="5" stroke-linecap="round"/>
<g fill="#AA9889" stroke="#5E5250" stroke-width="3.5">
  <ellipse cx="4260" cy="2621" rx="26" ry="54" transform="rotate(15 4260 2621)"/>
  <path d="M3717.0,2874.0 C3717.7,2867.3 3722.0,2854.7 3730.0,2846.0 C3738.0,2837.3 3752.0,2828.8 3765.0,2822.0 C3778.0,2815.2 3795.2,2808.8 3808.0,2805.0 C3820.8,2801.2 3833.7,2797.5 3842.0,2799.0 C3850.3,2800.5 3857.2,2807.8 3858.0,2814.0 C3858.8,2820.2 3853.2,2830.2 3847.0,2836.0 C3840.8,2841.8 3831.2,2843.7 3821.0,2849.0 C3810.8,2854.3 3797.5,2862.2 3786.0,2868.0 C3774.5,2873.8 3762.0,2881.0 3752.0,2884.0 C3742.0,2887.0 3731.8,2887.7 3726.0,2886.0 C3720.2,2884.3 3716.3,2880.7 3717.0,2874.0 Z"/>
  <ellipse cx="3972" cy="2874" rx="30" ry="42" transform="rotate(20 3972 2874)"/>
  <ellipse cx="4043" cy="2773" rx="14" ry="17"/>
  <ellipse cx="3494" cy="2971" rx="32" ry="15"/>
  <ellipse cx="3684" cy="2972" rx="35" ry="24" transform="rotate(-10 3684 2972)"/>
</g>
</svg><svg style="position:absolute;left:0;top:0" width="4950" height="400" viewBox="0 0 4950 400">
<g fill="#FFFFFF" stroke="#FFFFFF" stroke-width="3" stroke-linejoin="round">
 <path d="M123.5,200.5 L144.4,183.7 L158.7,183.7 L158.7,279.4 L140.7,279.4 L140.7,213.1 L123.5,212 Z"/>
 <path d="M4627.5,200.5 L4648.4,183.7 L4662.7,183.7 L4662.7,279.4 L4644.6,279.4 L4644.6,213.1 L4627.5,212 Z"/>
 <path d="M4762.3,183.7 L4826.4,183.7 L4826.4,188 L4783.5,279.4 L4763.5,279.4 L4762,275.5 L4797.5,200.6 L4762.3,200.6 Z"/>
</g>
<g fill="none" stroke="#FFFFFF" stroke-width="20.4">
 <circle cx="210.6" cy="214.6" r="23.8"/>
 <circle cx="4714.2" cy="214.8" r="23.8"/>
 <circle cx="291.8" cy="248.6" r="24.2"/>
</g>
<g fill="none" stroke="#FFFFFF" stroke-width="20">
 <path d="M234.4,214.6 C234.4,248 218,268 191,275.5"/>
 <path d="M4738,214.8 C4738,248 4722,268 4695,275.5"/>
 <path d="M267.6,248.6 C267.6,215 286,196 312,187"/>
</g>
</svg>
<div class="t" style="left:78.98px;top:608.54px;font-size:68.00px;transform:scaleX(0.6291)"><span style="font-weight:700;color:#FFFFFF;-webkit-text-stroke:1.92px #FFFFFF">PROBABILITY</span></div>
<div class="t" style="left:129.85px;top:694.98px;font-size:45.00px;transform:scaleX(0.6474)"><span style="font-weight:700;color:#FFFFFF;-webkit-text-stroke:1.50px #FFFFFF">AND</span></div>
<div class="t" style="left:212.55px;top:678.92px;font-size:64.00px;transform:scaleX(0.6134)"><span style="font-weight:700;color:#FFFFFF;-webkit-text-stroke:1.92px #FFFFFF">DATA</span></div>
<div class="t" style="left:105.46px;top:1044.64px;font-size:48.00px;transform:scaleX(0.9481)"><span style="font-weight:700;color:#123D74;-webkit-text-stroke:1.50px #123D74">Bar graphs</span></div>
<div class="t" style="left:4578.98px;top:608.54px;font-size:68.00px;transform:scaleX(0.6291)"><span style="font-weight:700;color:#FFFFFF;-webkit-text-stroke:1.92px #FFFFFF">PROBABILITY</span></div>
<div class="t" style="left:4629.85px;top:694.98px;font-size:45.00px;transform:scaleX(0.6474)"><span style="font-weight:700;color:#FFFFFF;-webkit-text-stroke:1.50px #FFFFFF">AND</span></div>
<div class="t" style="left:4712.55px;top:678.92px;font-size:64.00px;transform:scaleX(0.6134)"><span style="font-weight:700;color:#FFFFFF;-webkit-text-stroke:1.92px #FFFFFF">DATA</span></div>
<div class="t" style="left:4605.46px;top:1044.64px;font-size:48.00px;transform:scaleX(0.9481)"><span style="font-weight:700;color:#123D74;-webkit-text-stroke:1.50px #123D74">Bar graphs</span></div>
<div class="t" style="left:75.96px;top:2116.72px;font-size:93.00px;transform:scaleX(1.0074)"><span style="font-weight:700;color:#FFD600;-webkit-text-stroke:1.12px #FFD600">BRAIN</span></div>
<div class="t" style="left:76.20px;top:2211.72px;font-size:93.00px;transform:scaleX(0.9668)"><span style="font-weight:700;color:#FFD600;-webkit-text-stroke:1.12px #FFD600">BOX</span></div>
<div class="t" style="left:76.40px;top:2339.61px;font-size:51.00px;transform:scaleX(1.0348)"><span style="font-weight:400;color:#FFFFFF;-webkit-text-stroke:1.02px #FFFFFF">A </span><span style="font-weight:700;color:#FFD600;-webkit-text-stroke:0.61px #FFD600">bar graph</span></div>
<div class="t" style="left:73.14px;top:2406.30px;font-size:51.00px;transform:scaleX(1.0867)"><span style="font-weight:400;color:#FFFFFF;-webkit-text-stroke:1.02px #FFFFFF">is a picture,</span></div>
<div class="t" style="left:74.22px;top:2473.01px;font-size:51.00px;transform:scaleX(1.0885)"><span style="font-weight:400;color:#FFFFFF;-webkit-text-stroke:1.02px #FFFFFF">diagram, or</span></div>
<div class="t" style="left:74.17px;top:2539.70px;font-size:51.00px;transform:scaleX(1.1144)"><span style="font-weight:400;color:#FFFFFF;-webkit-text-stroke:1.02px #FFFFFF">drawing that</span></div>
<div class="t" style="left:75.40px;top:2606.41px;font-size:51.00px;transform:scaleX(1.0046)"><span style="font-weight:400;color:#FFFFFF;-webkit-text-stroke:1.02px #FFFFFF">shows how</span></div>
<div class="t" style="left:76.40px;top:2673.11px;font-size:51.00px;transform:scaleX(1.0826)"><span style="font-weight:400;color:#FFFFFF;-webkit-text-stroke:1.02px #FFFFFF">two or more</span></div>
<div class="t" style="left:76.40px;top:2739.80px;font-size:51.00px;transform:scaleX(1.0727)"><span style="font-weight:400;color:#FFFFFF;-webkit-text-stroke:1.02px #FFFFFF">things are</span></div>
<div class="t" style="left:73.21px;top:2806.51px;font-size:51.00px;transform:scaleX(1.0637)"><span style="font-weight:400;color:#FFFFFF;-webkit-text-stroke:1.02px #FFFFFF">related. Some</span></div>
<div class="t" style="left:74.30px;top:2873.20px;font-size:51.00px;transform:scaleX(1.0496)"><span style="font-weight:400;color:#FFFFFF;-webkit-text-stroke:1.02px #FFFFFF">graphs have</span></div>
<div class="t" style="left:74.42px;top:2939.91px;font-size:51.00px;transform:scaleX(0.9922)"><span style="font-weight:400;color:#FFFFFF;-webkit-text-stroke:1.02px #FFFFFF">a </span><span style="font-weight:700;color:#FFD600;-webkit-text-stroke:0.61px #FFD600">key</span><span style="font-weight:400;color:#FFFFFF;-webkit-text-stroke:1.02px #FFFFFF">. The</span></div>
<div class="t" style="left:73.31px;top:3006.61px;font-size:51.00px;transform:scaleX(1.0297)"><span style="font-weight:400;color:#FFFFFF;-webkit-text-stroke:1.02px #FFFFFF">key gives you</span></div>
<div class="t" style="left:72.95px;top:3073.30px;font-size:51.00px;transform:scaleX(1.1485)"><span style="font-weight:400;color:#FFFFFF;-webkit-text-stroke:1.02px #FFFFFF">information</span></div>
<div class="t" style="left:76.40px;top:3140.01px;font-size:51.00px;transform:scaleX(1.0528)"><span style="font-weight:400;color:#FFFFFF;-webkit-text-stroke:1.02px #FFFFFF">you need to</span></div>
<div class="t" style="left:73.14px;top:3206.70px;font-size:51.00px;transform:scaleX(1.0851)"><span style="font-weight:400;color:#FFFFFF;-webkit-text-stroke:1.02px #FFFFFF">understand</span></div>
<div class="t" style="left:76.40px;top:3273.41px;font-size:51.00px;transform:scaleX(1.0935)"><span style="font-weight:400;color:#FFFFFF;-webkit-text-stroke:1.02px #FFFFFF">the graph.</span></div>
<div class="t" style="left:554.57px;top:137.99px;font-size:138.00px;transform:scaleX(0.9782)"><span style="font-weight:700;color:#123D74;-webkit-text-stroke:3.00px #123D74">Adventures in</span></div>
<div class="t" style="left:560.75px;top:304.99px;font-size:138.00px;transform:scaleX(1.0056)"><span style="font-weight:700;color:#123D74;-webkit-text-stroke:3.00px #123D74">Babysitting</span></div>
<div class="t" style="left:557.36px;top:500.59px;font-size:58.00px;transform:scaleX(1.1347)"><span style="font-weight:400;color:#008B96;-webkit-text-stroke:1.16px #008B96">Use the </span><span style="font-weight:700;color:#008B96;-webkit-text-stroke:0.70px #008B96">bar graph</span><span style="font-weight:400;color:#008B96;-webkit-text-stroke:1.16px #008B96"> to answer the</span></div>
<div class="t" style="left:559.60px;top:577.29px;font-size:58.00px;transform:scaleX(1.1496)"><span style="font-weight:400;color:#008B96;-webkit-text-stroke:1.16px #008B96">questions on the next page.</span></div>
<div class="t" style="left:1889.99px;top:359.19px;font-size:58.00px;transform:scaleX(0.9015)"><span style="font-weight:400;color:#123D74;-webkit-text-stroke:1.16px #123D74">KEY</span></div>
<div class="t" style="left:1778.82px;top:457.68px;font-size:56.00px;transform:scaleX(1.0274)"><span style="font-weight:400;color:#FFFFFF;-webkit-text-stroke:0.40px #FFFFFF">monthly goal</span></div>
<div class="t" style="left:1700.83px;top:559.58px;font-size:56.00px;transform:scaleX(0.9873)"><span style="font-weight:400;color:#FFFFFF;-webkit-text-stroke:0.40px #FFFFFF">actual money made</span></div>
<div class="t" style="left:1043.28px;top:800.61px;font-size:62.00px;transform:scaleX(1.0049)"><span style="font-weight:700;color:#00B4CC;-webkit-text-stroke:0.00px #00B4CC">Nia’s Babysitting Money Chart</span></div>
<div class="t" style="left:700.93px;top:3260.04px;font-size:32.50px;transform:scaleX(1.0000)"><span style="font-weight:400;color:#123D74;-webkit-text-stroke:0.65px #123D74">$0</span></div>
<div class="t" style="left:682.85px;top:3163.99px;font-size:32.50px;transform:scaleX(1.0000)"><span style="font-weight:400;color:#123D74;-webkit-text-stroke:0.65px #123D74">$10</span></div>
<div class="t" style="left:682.85px;top:3055.84px;font-size:32.50px;transform:scaleX(1.0000)"><span style="font-weight:400;color:#123D74;-webkit-text-stroke:0.65px #123D74">$20</span></div>
<div class="t" style="left:682.85px;top:2947.69px;font-size:32.50px;transform:scaleX(1.0000)"><span style="font-weight:400;color:#123D74;-webkit-text-stroke:0.65px #123D74">$30</span></div>
<div class="t" style="left:682.85px;top:2839.54px;font-size:32.50px;transform:scaleX(1.0000)"><span style="font-weight:400;color:#123D74;-webkit-text-stroke:0.65px #123D74">$40</span></div>
<div class="t" style="left:682.85px;top:2731.39px;font-size:32.50px;transform:scaleX(1.0000)"><span style="font-weight:400;color:#123D74;-webkit-text-stroke:0.65px #123D74">$50</span></div>
<div class="t" style="left:682.85px;top:2623.24px;font-size:32.50px;transform:scaleX(1.0000)"><span style="font-weight:400;color:#123D74;-webkit-text-stroke:0.65px #123D74">$60</span></div>
<div class="t" style="left:682.85px;top:2515.09px;font-size:32.50px;transform:scaleX(1.0000)"><span style="font-weight:400;color:#123D74;-webkit-text-stroke:0.65px #123D74">$70</span></div>
<div class="t" style="left:682.85px;top:2406.94px;font-size:32.50px;transform:scaleX(1.0000)"><span style="font-weight:400;color:#123D74;-webkit-text-stroke:0.65px #123D74">$80</span></div>
<div class="t" style="left:682.85px;top:2298.79px;font-size:32.50px;transform:scaleX(1.0000)"><span style="font-weight:400;color:#123D74;-webkit-text-stroke:0.65px #123D74">$90</span></div>
<div class="t" style="left:664.78px;top:2190.64px;font-size:32.50px;transform:scaleX(1.0000)"><span style="font-weight:400;color:#123D74;-webkit-text-stroke:0.65px #123D74">$100</span></div>
<div class="t" style="left:667.19px;top:2082.49px;font-size:32.50px;transform:scaleX(1.0000)"><span style="font-weight:400;color:#123D74;-webkit-text-stroke:0.65px #123D74">$110</span></div>
<div class="t" style="left:664.78px;top:1974.34px;font-size:32.50px;transform:scaleX(1.0000)"><span style="font-weight:400;color:#123D74;-webkit-text-stroke:0.65px #123D74">$120</span></div>
<div class="t" style="left:664.78px;top:1866.19px;font-size:32.50px;transform:scaleX(1.0000)"><span style="font-weight:400;color:#123D74;-webkit-text-stroke:0.65px #123D74">$130</span></div>
<div class="t" style="left:664.78px;top:1758.04px;font-size:32.50px;transform:scaleX(1.0000)"><span style="font-weight:400;color:#123D74;-webkit-text-stroke:0.65px #123D74">$140</span></div>
<div class="t" style="left:664.78px;top:1649.89px;font-size:32.50px;transform:scaleX(1.0000)"><span style="font-weight:400;color:#123D74;-webkit-text-stroke:0.65px #123D74">$150</span></div>
<div class="t" style="left:664.78px;top:1541.74px;font-size:32.50px;transform:scaleX(1.0000)"><span style="font-weight:400;color:#123D74;-webkit-text-stroke:0.65px #123D74">$160</span></div>
<div class="t" style="left:664.78px;top:1433.59px;font-size:32.50px;transform:scaleX(1.0000)"><span style="font-weight:400;color:#123D74;-webkit-text-stroke:0.65px #123D74">$170</span></div>
<div class="t" style="left:664.78px;top:1325.44px;font-size:32.50px;transform:scaleX(1.0000)"><span style="font-weight:400;color:#123D74;-webkit-text-stroke:0.65px #123D74">$180</span></div>
<div class="t" style="left:664.78px;top:1217.29px;font-size:32.50px;transform:scaleX(1.0000)"><span style="font-weight:400;color:#123D74;-webkit-text-stroke:0.65px #123D74">$190</span></div>
<div class="t" style="left:664.78px;top:1109.14px;font-size:32.50px;transform:scaleX(1.0000)"><span style="font-weight:400;color:#123D74;-webkit-text-stroke:0.65px #123D74">$200</span></div>
<div class="t" style="left:664.78px;top:1000.99px;font-size:32.50px;transform:scaleX(1.0000)"><span style="font-weight:400;color:#123D74;-webkit-text-stroke:0.65px #123D74">$210</span></div>
<div class="t" style="left:664.78px;top:892.84px;font-size:32.50px;transform:scaleX(1.0000)"><span style="font-weight:400;color:#123D74;-webkit-text-stroke:0.65px #123D74">$220</span></div>
<div class="t" style="left:843.40px;top:3318.94px;font-size:48.00px;transform:scaleX(0.9304)"><span style="font-weight:400;color:#123D74;-webkit-text-stroke:0.96px #123D74">Jan</span></div>
<div class="t" style="left:1002.00px;top:3318.94px;font-size:48.00px;transform:scaleX(0.9344)"><span style="font-weight:400;color:#123D74;-webkit-text-stroke:0.96px #123D74">Feb</span></div>
<div class="t" style="left:1145.50px;top:3318.94px;font-size:48.00px;transform:scaleX(1.0341)"><span style="font-weight:400;color:#123D74;-webkit-text-stroke:0.96px #123D74">Mar</span></div>
<div class="t" style="left:1283.00px;top:3318.94px;font-size:48.00px;transform:scaleX(1.0818)"><span style="font-weight:400;color:#123D74;-webkit-text-stroke:0.96px #123D74">April</span></div>
<div class="t" style="left:1445.00px;top:3318.94px;font-size:48.00px;transform:scaleX(1.0002)"><span style="font-weight:400;color:#123D74;-webkit-text-stroke:0.96px #123D74">May</span></div>
<div class="t" style="left:1594.70px;top:3318.94px;font-size:48.00px;transform:scaleX(0.9698)"><span style="font-weight:400;color:#123D74;-webkit-text-stroke:0.96px #123D74">June</span></div>
<div class="t" style="left:1748.00px;top:3318.94px;font-size:48.00px;transform:scaleX(0.9724)"><span style="font-weight:400;color:#123D74;-webkit-text-stroke:0.96px #123D74">July</span></div>
<div class="t" style="left:1895.00px;top:3318.94px;font-size:48.00px;transform:scaleX(1.0156)"><span style="font-weight:400;color:#123D74;-webkit-text-stroke:0.96px #123D74">Aug</span></div>
<div class="t" style="left:2038.02px;top:3318.94px;font-size:48.00px;transform:scaleX(0.9906)"><span style="font-weight:400;color:#123D74;-webkit-text-stroke:0.96px #123D74">Sept</span></div>
<div class="t" style="left:1946.02px;top:3421.43px;font-size:26.00px;transform:scaleX(0.9392)"><span style="font-weight:400;color:#1A1A1A;-webkit-text-stroke:0.52px #1A1A1A">Brain Quest Grade 5 Workbook</span></div>
<div class="t" style="left:2660.92px;top:3421.43px;font-size:26.00px;transform:scaleX(0.9420)"><span style="font-weight:400;color:#1A1A1A;-webkit-text-stroke:0.52px #1A1A1A">Brain Quest Grade 5 Workbook</span></div>
<div class="t" style="left:2663.65px;top:296.80px;font-size:51.00px;transform:scaleX(1.0463)"><span style="font-weight:400;color:#123D74;-webkit-text-stroke:1.02px #123D74">This graph shows that Nia hoped to make</span></div>
<div class="t" style="left:4127.63px;top:296.80px;font-size:51.00px;transform:scaleX(1.0332)"><span style="font-weight:400;color:#123D74;-webkit-text-stroke:1.02px #123D74">every</span></div>
<div class="t" style="left:2661.34px;top:383.21px;font-size:51.00px;transform:scaleX(1.1189)"><span style="font-weight:400;color:#123D74;-webkit-text-stroke:1.02px #123D74">month for</span></div>
<div class="t" style="left:3379.72px;top:383.21px;font-size:51.00px;transform:scaleX(1.0939)"><span style="font-weight:400;color:#123D74;-webkit-text-stroke:1.02px #123D74">months.</span></div>
<div class="t" style="left:2660.37px;top:565.11px;font-size:51.00px;transform:scaleX(1.0827)"><span style="font-weight:400;color:#123D74;-webkit-text-stroke:1.02px #123D74">Nia fell short of her goal the months of</span></div>
<div class="t" style="left:4073.80px;top:565.11px;font-size:51.00px;transform:scaleX(1.0000)"><span style="font-weight:400;color:#123D74;-webkit-text-stroke:1.02px #123D74">,</span></div>
<div class="t" style="left:3126.20px;top:652.30px;font-size:51.00px;transform:scaleX(1.0741)"><span style="font-weight:400;color:#123D74;-webkit-text-stroke:1.02px #123D74">, and</span></div>
<div class="t" style="left:3729.80px;top:652.30px;font-size:51.00px;transform:scaleX(1.0000)"><span style="font-weight:400;color:#123D74;-webkit-text-stroke:1.02px #123D74">.</span></div>
<div class="t" style="left:2660.49px;top:833.40px;font-size:51.00px;transform:scaleX(1.0534)"><span style="font-weight:400;color:#123D74;-webkit-text-stroke:1.02px #123D74">Her goal was to make</span></div>
<div class="t" style="left:3661.00px;top:833.40px;font-size:51.00px;transform:scaleX(1.0664)"><span style="font-weight:400;color:#123D74;-webkit-text-stroke:1.02px #123D74">total. She actually made</span></div>
<div class="t" style="left:3130.50px;top:920.90px;font-size:51.00px;transform:scaleX(1.1965)"><span style="font-weight:400;color:#123D74;-webkit-text-stroke:1.02px #123D74">total.</span></div>
<div class="t" style="left:2663.65px;top:1102.31px;font-size:51.00px;transform:scaleX(1.0489)"><span style="font-weight:400;color:#123D74;-webkit-text-stroke:1.02px #123D74">The first month Nia exceeded her goal was</span></div>
<div class="t" style="left:4163.00px;top:1102.31px;font-size:51.00px;transform:scaleX(1.0000)"><span style="font-weight:400;color:#123D74;-webkit-text-stroke:1.02px #123D74">.</span></div>
<div class="t" style="left:2660.49px;top:1281.90px;font-size:51.00px;transform:scaleX(1.0522)"><span style="font-weight:400;color:#123D74;-webkit-text-stroke:1.02px #123D74">Nia made the most money over which three months?</span></div>
<div class="t" style="left:2660.52px;top:1463.50px;font-size:51.00px;transform:scaleX(1.0460)"><span style="font-weight:400;color:#123D74;-webkit-text-stroke:1.02px #123D74">Nia exceeded her goal in the months of</span></div>
<div class="t" style="left:4069.00px;top:1463.50px;font-size:51.00px;transform:scaleX(1.0000)"><span style="font-weight:400;color:#123D74;-webkit-text-stroke:1.02px #123D74">,</span></div>
<div class="t" style="left:3132.00px;top:1551.90px;font-size:51.00px;transform:scaleX(1.0000)"><span style="font-weight:400;color:#123D74;-webkit-text-stroke:1.02px #123D74">,</span></div>
<div class="t" style="left:3626.00px;top:1551.90px;font-size:51.00px;transform:scaleX(1.0000)"><span style="font-weight:400;color:#123D74;-webkit-text-stroke:1.02px #123D74">,</span></div>
<div class="t" style="left:4121.00px;top:1551.90px;font-size:51.00px;transform:scaleX(1.0000)"><span style="font-weight:400;color:#123D74;-webkit-text-stroke:1.02px #123D74">,</span></div>
<div class="t" style="left:3125.70px;top:1638.90px;font-size:51.00px;transform:scaleX(1.0741)"><span style="font-weight:400;color:#123D74;-webkit-text-stroke:1.02px #123D74">, and</span></div>
<div class="t" style="left:3728.00px;top:1638.90px;font-size:51.00px;transform:scaleX(1.0000)"><span style="font-weight:400;color:#123D74;-webkit-text-stroke:1.02px #123D74">.</span></div>
<div class="t" style="left:2660.48px;top:1820.90px;font-size:51.00px;transform:scaleX(1.0548)"><span style="font-weight:400;color:#123D74;-webkit-text-stroke:1.02px #123D74">If Nia’s goal had been to make $190 per month, how many months</span></div>
<div class="t" style="left:2665.74px;top:1906.70px;font-size:51.00px;transform:scaleX(1.0419)"><span style="font-weight:400;color:#123D74;-webkit-text-stroke:1.02px #123D74">would she have met or exceeded that goal?</span></div>
</body></html>
